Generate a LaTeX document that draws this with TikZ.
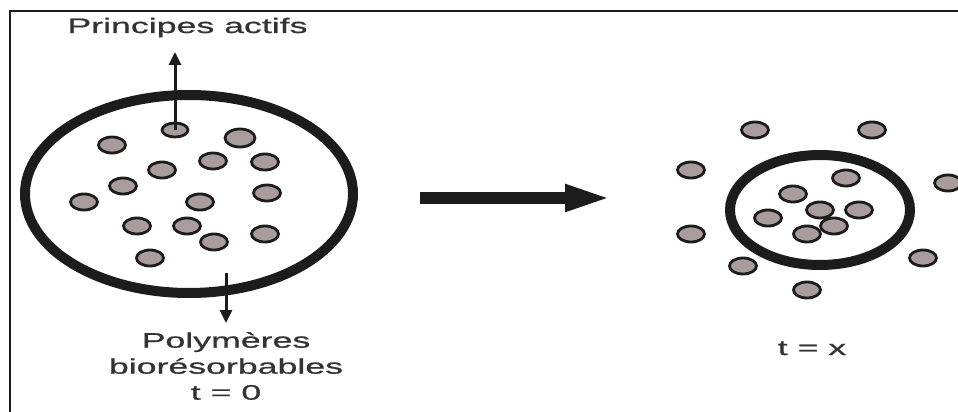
\documentclass[tikz,border=0pt]{standalone}
\usepackage{fontspec}
\usetikzlibrary{arrows.meta}

\newfontfamily\legendfont[FakeStretch=1.7,FakeBold=0.8]{Liberation Sans}
\definecolor{ink}{HTML}{1C1C1C}
\definecolor{grainfill}{HTML}{A89C9C}

\tikzset{
  grain/.style={draw=ink, fill=grainfill, line width=2.8pt},
  wall/.style={draw=ink, line width=10pt},
  fleche/.style={draw=ink, line width=3pt, -{Triangle[length=13pt,width=12pt]}},
  legende/.style={font=\legendfont\fontsize{21}{26}\selectfont, text=black!80, inner sep=0pt},
}

\begin{document}
\begin{tikzpicture}[x=1pt,y=-1pt]
  \useasboundingbox (0,0) rectangle (958,412);
  % frame (top and left only)
  \draw[ink, line width=2.5pt] (10,412) -- (10,11) -- (958,11);

  % t = 0 : sphere full of grains
  \draw[wall] (189,194) ellipse [x radius=164, y radius=99];
  \foreach \px/\py in {112/145,213/161,265/162,162/170,123/186,267/193,
                       84/202,200/202,137/226,187/226,214/242,265/234,150/258}
    \draw[grain] (\px,\py) ellipse [x radius=13.5, y radius=8];
  \draw[grain] (240,138) ellipse [x radius=15, y radius=9];
  \coordinate (actif) at (175,130);
  \draw[grain] (actif) ellipse [x radius=13, y radius=7];

  \coordinate (haut) at (175,52);
  \draw[fleche] (actif) -- (haut);
  \coordinate (paroi) at (226,273);
  \coordinate (bas) at (226,323);
  \draw[fleche] (paroi) -- (bas);

  \node[legende, anchor=base] (actifs) at (187.5,33) {Principes actifs};
  \node[legende, anchor=north, align=center] (polymeres) at (226,332)
    {Polymères\\biorésorbables\\t = 0};

  % big arrow between the two states
  \coordinate (depart) at (420,198);
  \coordinate (arrivee) at (613,198);
  \draw[ink, line width=12pt, -{Triangle[length=48pt,width=24pt]}] (depart) -- (arrivee);

  % t = x : shrunk sphere, grains released
  \draw[wall] (820,210) ellipse [x radius=90, y radius=55];
  \foreach \px/\py in {846/178,793/194,820/210,859/210,768/218,834/226,807/234,
                       755/130,872/130,691/170,948/183,691/234,743/266,923/258,807/290}
    \draw[grain] (\px,\py) ellipse [x radius=13.5, y radius=8];

  \node[legende, anchor=base] (tx) at (812,355) {t = x};
\end{tikzpicture}
\end{document}
